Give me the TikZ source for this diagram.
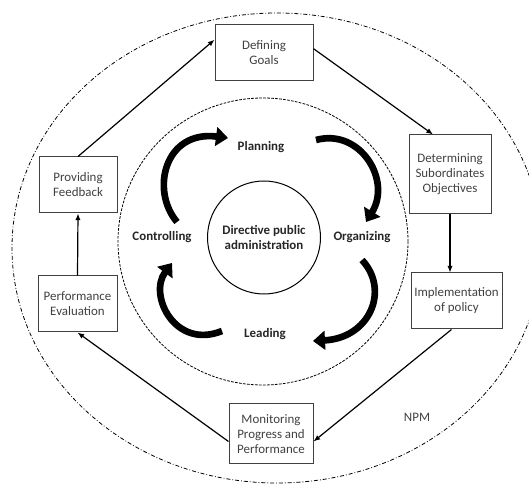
\documentclass[tikz,border=0pt]{standalone}
\usepackage{fontspec}
\setmainfont{Carlito}
\usetikzlibrary{arrows.meta}

\begin{document}
\begin{tikzpicture}[x=0.75pt, y=-0.75pt,
  paso/.style={rectangle, draw=black!75, line width=0.75pt, align=center, inner sep=0pt, text=black!75, font=\fontsize{9.7}{11.25}\selectfont},
  func/.style={align=center, text=black!85, font=\fontsize{9.7}{11.25}\selectfont\bfseries},
  lin/.style={-{Latex[length=5pt, width=4pt]}, line width=0.9pt},
  flecha/.style={-{Triangle[length=9pt, width=14pt]}, line width=5pt}
]
\useasboundingbox (0,0) rectangle (529,484);
\clip (0,0) rectangle (529,484);
% anillos
\draw[dash pattern=on 3pt off 1.5pt on 0.6pt off 1.5pt, line width=0.6pt] (277,248) ellipse [x radius=265, y radius=235];
\draw[dash pattern=on 2pt off 1pt, line width=0.6pt] (263,241.5) ellipse [x radius=145, y radius=143.5];
% centro
\node[circle, draw, line width=0.75pt, minimum size=84.75pt, func] (dpa) at (264,237.5) {Directive public\\administration};
% funciones
\node[func] (plan) at (261,147) {Planning};
\node[func] (org) at (362,237) {Organizing};
\node[func] (lead) at (265,334) {Leading};
\node[func] (ctl) at (162,237) {Controlling};
% etapas del ciclo NPM
\node[paso, minimum width=73.5pt, minimum height=42pt] (goals) at (264,53) {Defining\\Goals};
\node[paso, minimum width=61.5pt, minimum height=59.25pt] (subobj) at (450,174.5) {Determining\\Subordinates\\Objectives};
\node[paso, minimum width=68.25pt, minimum height=42pt] (impl) at (456.5,301) {Implementation\\of policy};
\node[paso, minimum width=63pt, minimum height=45pt] (monit) at (271,434) {Monitoring\\Progress and\\Performance};
\node[paso, minimum width=59.25pt, minimum height=42pt] (perf) at (77.5,304) {Performance\\Evaluation};
\node[paso, minimum width=58.5pt, minimum height=42pt] (feedb) at (78,185) {Providing\\Feedback};
\node[paso, draw=none] (npm) at (417,417) {NPM};
% flechas del ciclo
\draw[lin] (feedb.north) -- (goals.165);
\draw[lin] (goals.5) -- (subobj.113);
\draw[lin] (subobj.south) -- (subobj.south |- impl.north);
\draw[lin] (impl.-100) -- (monit.-10);
\draw[lin] (monit.190) -- (perf.south);
\draw[lin] (perf.north) -- (feedb.south);
% extremos de las flechas curvas
\coordinate (ctlA) at (177,222);
\coordinate (planA) at (228,138);
\coordinate (planB) at (316,140);
\coordinate (orgA) at (366,222);
\coordinate (orgB) at (362,260);
\coordinate (leadA) at (313,341);
\coordinate (leadB) at (222,331);
\coordinate (ctlB) at (172,263);
% flechas curvas
\draw[flecha] (ctlA) .. controls (150,190) and (165,130) .. (planA);
\draw[flecha] (planB) .. controls (360,128) and (392,180) .. (orgA);
\draw[flecha] (orgB) .. controls (390,290) and (370,338) .. (leadA);
\draw[flecha] (leadB) .. controls (175,350) and (148,295) .. (ctlB);
\end{tikzpicture}
\end{document}
